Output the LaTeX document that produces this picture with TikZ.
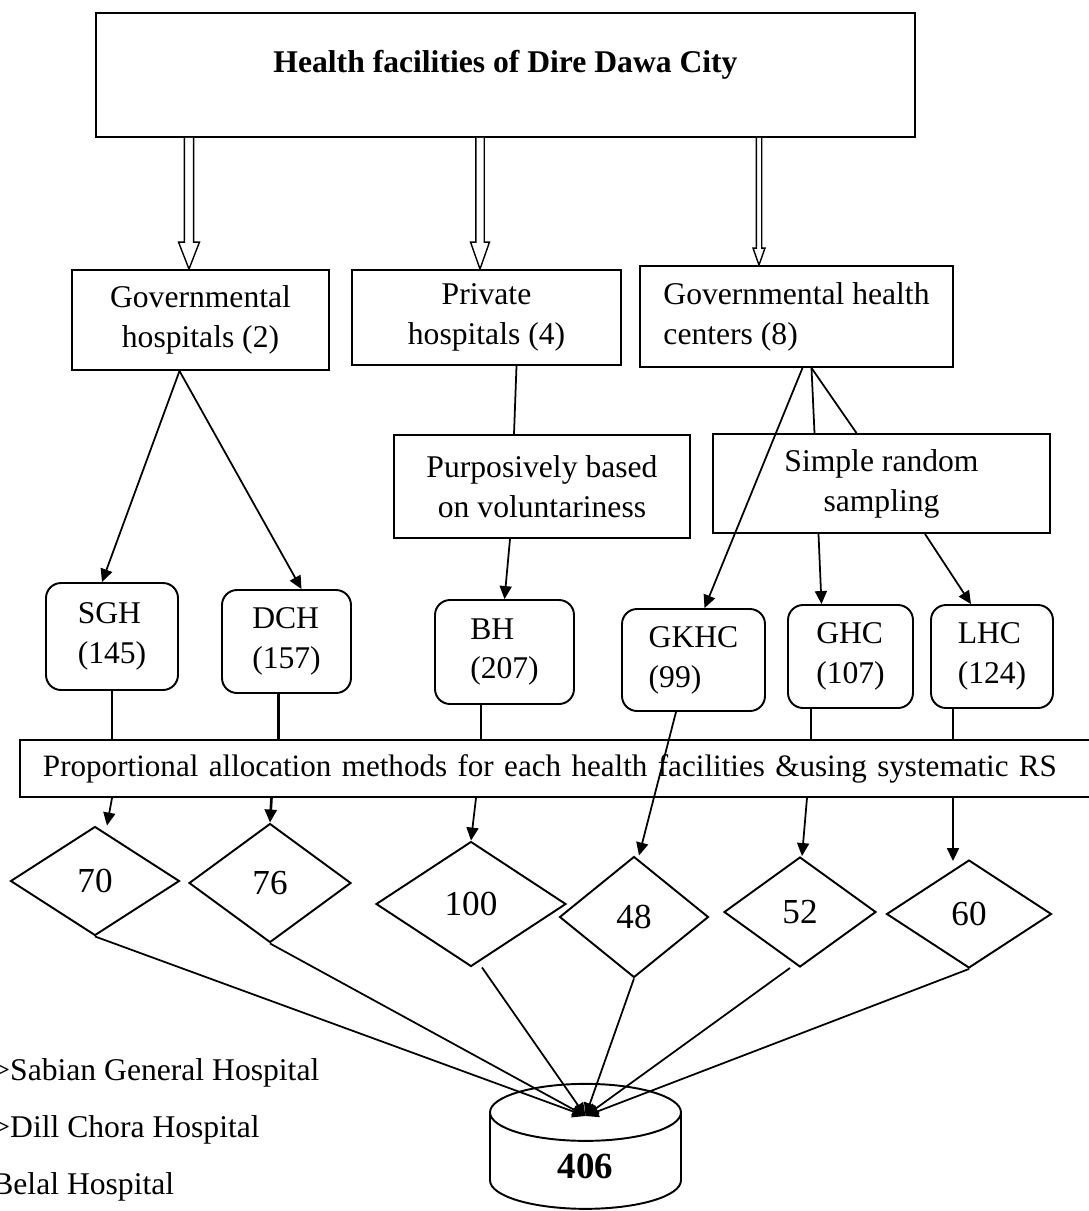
\documentclass[tikz,border=0pt]{standalone}
\usepackage{fontspec}
\setmainfont{Liberation Serif}
\usepackage{tikz}
\usetikzlibrary{shapes.geometric, arrows.meta, positioning, calc}

% hollow block arrow: from, tip, shaft half width, head half width, head length
\newcommand{\hollowarrow}[5]{%
  \draw[line width=0.8pt, fill=white, line join=miter]
    ($(#1)+(-#3,0)$) -- ($(#2)+(-#3,-#5)$) -- ($(#2)+(-#4,-#5)$) -- (#2)
    -- ($(#2)+(#4,-#5)$) -- ($(#2)+(#3,-#5)$) -- ($(#1)+(#3,0)$);}

\begin{document}
\begin{tikzpicture}[
    x=0.02cm, y=-0.02cm,
    box/.style={rectangle, draw, line width=1.1pt, align=center, inner sep=0pt, font=\fontsize{18}{22.7}\selectfont},
    facility/.style={rectangle, rounded corners=0.3cm, draw, line width=1.1pt, align=left, inner sep=0pt, font=\fontsize{18}{22.7}\selectfont},
    share/.style={diamond, draw, line width=1.1pt, inner sep=0pt, font=\fontsize{20}{22}\selectfont},
    legend/.style={anchor=west, inner sep=0pt, font=\fontsize{18}{20}\selectfont},
    link/.style={line width=1pt},
    arrow/.style={link, -{Triangle[length=2.6mm, width=2.4mm]}}
]
\useasboundingbox (0,0) rectangle (1089,1211);

% Top box
\node[box, minimum width=16.38cm, minimum height=2.48cm, text depth=0.55cm, font=\bfseries\fontsize{18}{20}\selectfont] (title) at (505.5,75) {Health facilities of Dire Dawa City};

% Types of facilities
\node[box, minimum width=5.14cm, minimum height=2cm] (gov) at (200.5,320) {Governmental\\hospitals (2)};
\node[box, minimum width=5.38cm, minimum height=1.9cm] (priv) at (486.5,317.5) {Private\\hospitals (4)};
\node[box, align=left, minimum width=6.26cm, minimum height=2.02cm] (hc) at (796.5,316.5) {Governmental health\\centers (8)};

% Sampling
\node[box, minimum width=5.92cm, minimum height=2.06cm] (purp) at (542,486.5) {Purposively based\\on voluntariness};
\node[box, minimum width=6.74cm, minimum height=1.98cm] (srs) at (881.5,483.5) {Simple random\\sampling};

% Selected facilities
\node[facility, minimum width=2.64cm, minimum height=2.14cm] (sgh) at (112,636.5) {SGH\\(145)};
\node[facility, minimum width=2.58cm, minimum height=2.06cm] (dch) at (286.5,641.5) {DCH\\(157)};
\node[facility, minimum width=2.78cm, minimum height=2.08cm] (bh) at (504.5,652) {BH\\(207)};
\node[facility, minimum width=2.86cm, minimum height=2.04cm] (gkhc) at (693.5,660) {GKHC\\(99)};
\node[facility, minimum width=2.5cm, minimum height=2.06cm] (ghc) at (850.5,656.5) {GHC\\(107)};
\node[facility, minimum width=2.44cm, minimum height=2.06cm] (lhc) at (992,656.5) {LHC\\(124)};

% Allocation
\node[box, anchor=west, minimum height=1.14cm, text width=21.2cm, align=left, inner xsep=0.46cm, font=\fontsize{17.7}{22}\selectfont] (alloc) at (19,768.5) {Proportional allocation methods for each health facilities \&using systematic RS};

% Sample sizes
\node[share, minimum width=3.38cm, minimum height=2.18cm] (s70) at (95,881) {70};
\node[share, minimum width=3.24cm, minimum height=2.38cm] (s76) at (270,883) {76};
\node[share, minimum width=3.8cm, minimum height=2.5cm] (s100) at (471,904) {100};
\node[share, minimum width=2.98cm, minimum height=2.42cm] (s48) at (634,917) {48};
\node[share, minimum width=3.04cm, minimum height=2.2cm] (s52) at (800,912) {52};
\node[share, minimum width=3.3cm, minimum height=2.16cm] (s60) at (969,914) {60};

% Total
\node[cylinder, shape border rotate=90, draw, line width=1.1pt, aspect=0.85, minimum width=3.82cm, minimum height=2.5cm, font=\bfseries\fontsize{21}{24}\selectfont] (total) at (585.5,1166) {406};
\coordinate (hub) at ($(total.center)+(0,-50)$);

% Legend
\node[legend] (legsgh) at (-8,1073) {>Sabian General Hospital};
\node[legend] (legdch) at (-8,1130) {>Dill Chora Hospital};
\node[legend] (legbh) at (-8,1187) {Belal Hospital};

% Block arrows
\coordinate (t1) at ($(title.south)+(-316.5,0)$);
\coordinate (g1) at ($(gov.north)+(-11.5,0)$);
\coordinate (t2) at ($(title.south)+(-25.5,0)$);
\coordinate (g2) at ($(priv.north)+(-6.5,0)$);
\coordinate (t3) at ($(title.south)+(253.5,0)$);
\coordinate (g3) at ($(hc.north)+(-37.5,0)$);
\hollowarrow{t1}{g1}{4.7}{10.5}{27}
\hollowarrow{t2}{g2}{4.2}{9.5}{27}
\hollowarrow{t3}{g3}{2.7}{6}{17}

% Connections
\draw[arrow] ($(gov.south)+(-21,0)$) -- ($(sgh.north)+(-10,0)$);
\draw[arrow] ($(gov.south)+(-21,0)$) -- ($(dch.north)+(15,0)$);
\draw[link] ($(priv.south)+(30,0)$) -- ($(purp.north)+(-28,0)$);
\draw[arrow] ($(purp.south)+(-32,0)$) -- (bh.north);
\draw[arrow] ($(hc.south)+(6,0)$) -- ($(gkhc.north)+(11,0)$);
\draw[link] ($(hc.south)+(15,0)$) -- ($(srs.north)+(-67,0)$);
\draw[link] ($(hc.south)+(15,0)$) -- ($(srs.north)+(-25,0)$);
\draw[arrow] ($(srs.south)+(-63,0)$) -- ($(ghc.north)+(-29,0)$);
\draw[arrow] ($(srs.south)+(43.5,0)$) -- ($(lhc.north)+(-21,0)$);

% Through the allocation box
\coordinate (xdch) at ($(dch.south)+(-8,0)$);
\coordinate (ydch) at ($(dch.south)+(-15,0)$);
\coordinate (xbh) at ($(bh.south)+(-23.5,0)$);
\coordinate (ybh) at ($(bh.south)+(-28.5,0)$);
\coordinate (xghc) at ($(ghc.south)+(-39.5,0)$);
\coordinate (yghc) at ($(ghc.south)+(-43.5,0)$);
\coordinate (xlhc) at ($(lhc.south)+(-39,0)$);

\draw[link] (sgh.south) -- (sgh.south |- alloc.north);
\draw[arrow] (sgh.south |- alloc.south) -- ($(s70.north)+(12,0)$);
\draw[link, line width=1.5pt] (xdch) -- (xdch |- alloc.north);
\draw[arrow, line width=1.5pt] (ydch |- alloc.south) -- (s76.north);
\draw[link] (xbh) -- (xbh |- alloc.north);
\draw[arrow] (ybh |- alloc.south) -- (s100.north);
\draw[arrow] ($(gkhc.south)+(-17.5,0)$) -- ($(s48.north)+(5,0)$);
\draw[link] (xghc) -- (xghc |- alloc.north);
\draw[arrow] (yghc |- alloc.south) -- ($(s52.north)+(2,0)$);
\draw[link] (xlhc) -- (xlhc |- alloc.north);
\draw[arrow] (xlhc |- alloc.south) -- ($(s60.north)+(-16,2)$);

\draw[arrow] (s70.south) -- (hub);
\draw[arrow] (s76.south) -- (hub);
\draw[arrow] ($(s100.south)+(11,0)$) -- (hub);
\draw[arrow] (s48.south) -- (hub);
\draw[arrow] ($(s52.south)+(-10,0)$) -- (hub);
\draw[arrow] (s60.south) -- (hub);

\end{tikzpicture}
\end{document}
